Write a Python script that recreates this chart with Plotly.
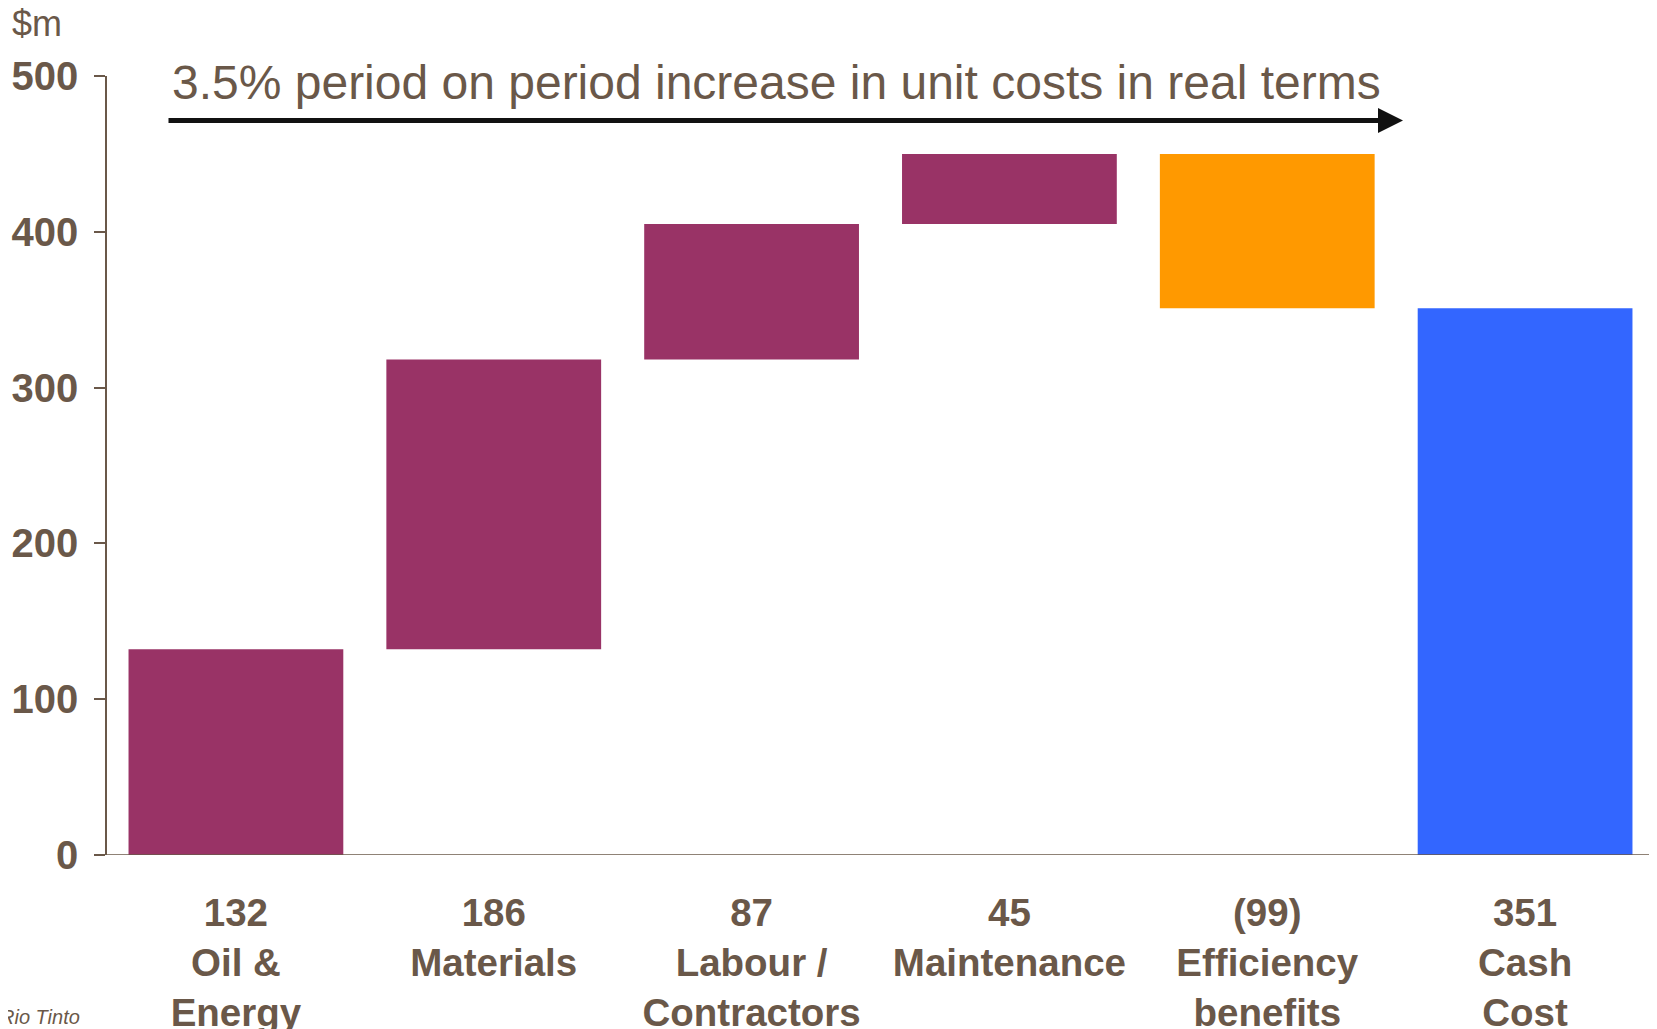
import plotly.graph_objects as go

categories = ["Oil &<br>Energy", "Materials", "Labour /<br>Contractors", "Maintenance",
              "Efficiency<br>benefits", "Cash<br>Cost"]
values = [132, 186, 87, 45, -99, 351]
value_labels = ["132", "186", "87", "45", "(99)", "351"]
measures = ["relative", "relative", "relative", "relative", "relative", "total"]
y_ticks = [0, 100, 200, 300, 400, 500]

TXT = "#6A5849"
FONT = "Liberation Sans, Arial, Helvetica, sans-serif"

ticktext = [f"{v}<br>{c}" for v, c in zip(value_labels, categories)]
xpos = list(range(len(categories)))

fig = go.Figure(go.Waterfall(
    x=xpos,
    y=values,
    measure=measures,
    increasing=dict(marker=dict(color="#993366")),
    decreasing=dict(marker=dict(color="#FF9900")),
    totals=dict(marker=dict(color="#3366FF")),
    connector=dict(visible=False),
    hoverinfo="skip",
))

O = 8  # page body margin offset
W, H = 1657, 1029
L, R, T, B = 107 - O, 11, 76 - O, 182
pw = W - L - R
ph = H - T - B


def px(X):
    return (X - O - L) / pw


def py(Y):
    return (H - B - (Y - O)) / ph


fig.update_layout(
    width=W, height=H,
    margin=dict(l=L, r=R, t=T, b=B, autoexpand=False),
    paper_bgcolor="white", plot_bgcolor="white",
    showlegend=False,
    waterfallgap=0.167,
    font=dict(family=FONT, color=TXT),
)

fig.update_xaxes(
    range=[-0.5, 5.5],
    tickmode="array", tickvals=xpos, ticktext=ticktext,
    tickfont=dict(family=FONT, size=38.5, color=TXT, weight="bold"),
    showline=False, ticks="", showgrid=False, zeroline=False,
    ticklabelstandoff=31,
)
fig.update_yaxes(
    range=[0, 500],
    tickmode="array", tickvals=y_ticks, ticktext=[str(v) for v in y_ticks],
    tickfont=dict(family=FONT, size=40, color=TXT, weight="bold"),
    showline=True, linecolor=TXT, linewidth=1.5,
    ticks="outside", ticklen=11, tickcolor=TXT, tickwidth=1.5,
    showgrid=False, zeroline=False,
    ticklabelstandoff=8,
)

# baseline extending past the y-axis ticks
fig.add_shape(type="line", xref="paper", yref="y",
              x0=px(96), x1=1.02, y0=0, y1=0,
              line=dict(color=TXT, width=1.5))

# arrow
fig.add_annotation(xref="paper", yref="y", axref="pixel", ayref="pixel",
                   x=px(1403), y=471.5, ax=-(1403 - 167), ay=0,
                   showarrow=True, arrowhead=2, arrowsize=1.0, arrowwidth=5,
                   arrowcolor="#111111", text="")

fig.add_annotation(xref="paper", yref="y", x=px(170), y=496,
                   xanchor="left", yanchor="middle", showarrow=False,
                   text="3.5% period on period increase in unit costs in real terms",
                   font=dict(family=FONT, size=48, color=TXT))

fig.add_annotation(xref="paper", yref="paper", x=px(10), y=py(24),
                   xanchor="left", yanchor="middle", showarrow=False,
                   text="$m", font=dict(family=FONT, size=36, color=TXT))

fig.add_annotation(xref="paper", yref="paper", x=px(82), y=py(1017),
                   xanchor="right", yanchor="middle", showarrow=False,
                   text="<i>Rio Tinto</i>", font=dict(family=FONT, size=20, color=TXT))

fig.write_html("out.html")
